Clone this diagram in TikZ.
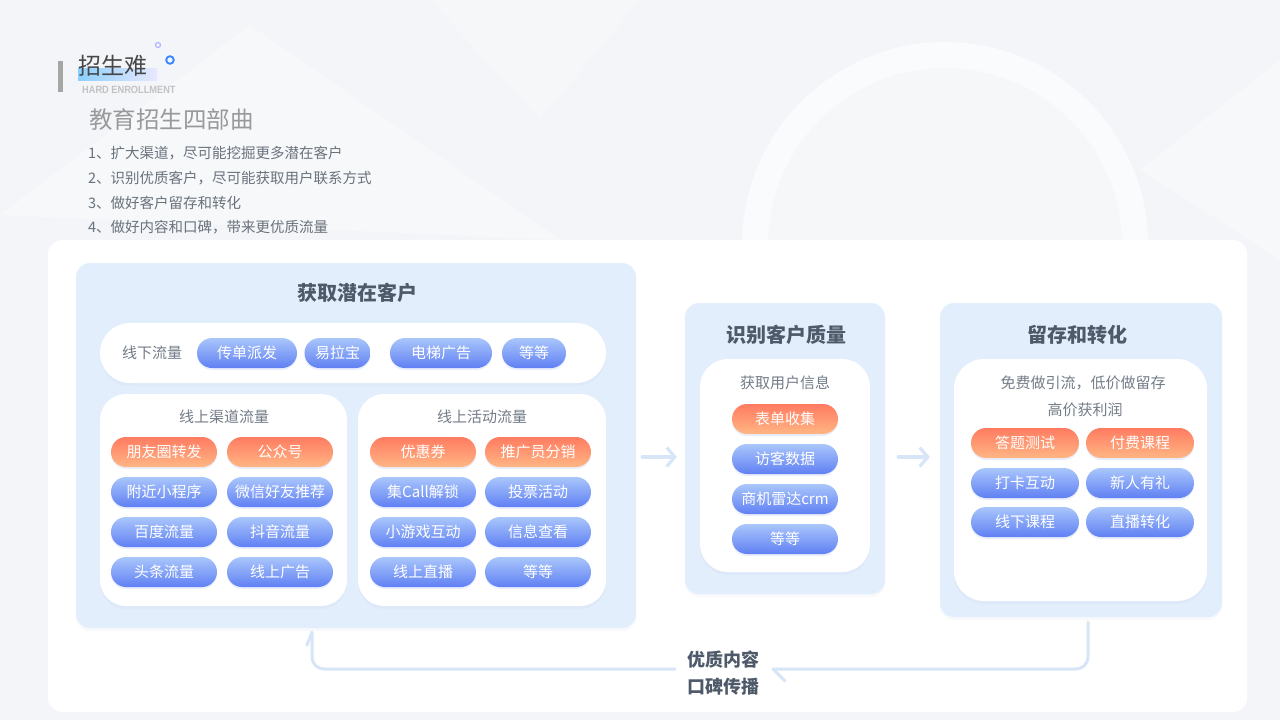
\documentclass[tikz,border=0pt]{standalone}
\usepackage{fontspec}
\setmainfont{Noto Sans CJK SC}
\newfontfamily\arialfont{Liberation Sans}
\usetikzlibrary{shadows,arrows.meta}
\definecolor{bgc}{HTML}{F3F5F8}
\definecolor{boxblue}{HTML}{E3EEFC}
\definecolor{titlec}{HTML}{4E5A69}
\definecolor{subc}{HTML}{737C87}
\definecolor{listc}{HTML}{6A727C}
\definecolor{pbtop}{HTML}{A9C6FB}
\definecolor{pbbot}{HTML}{6080F3}
\definecolor{potop}{HTML}{FF7B61}
\definecolor{pobot}{HTML}{FFB684}
\definecolor{arrowc}{HTML}{D6E5F7}
\definecolor{shadowc}{HTML}{B9CBE3}
\tikzset{
  fs/.style={font=\fontsize{#1}{17}\selectfont},
  bluebox/.style={fill=boxblue, rounded corners=14, inner sep=0,
    drop shadow={shadow xshift=0pt, shadow yshift=-3pt, opacity=0.10, fill=shadowc}},
  whitebox/.style={fill=white, rounded corners=#1, inner sep=0,
    drop shadow={shadow xshift=0pt, shadow yshift=-3pt, opacity=0.12, fill=shadowc}},
  pill/.style={rounded corners=15, minimum width=#1, minimum height=30, inner sep=0,
    text=white, font=\fontsize{15}{18}\selectfont,
    drop shadow={shadow xshift=0pt, shadow yshift=-2pt, opacity=0.12, fill=pbbot}},
  pb/.style={pill=#1, top color=pbtop, bottom color=pbbot},
  po/.style={pill=#1, top color=potop, bottom color=pobot},
  pb/.default=106, po/.default=106,
  boxtitle/.style={text=titlec, font=\fontsize{20}{24}\selectfont\bfseries},
  subtitle/.style={text=subc, font=\fontsize{15}{18}\selectfont},
  flow/.style={draw=arrowc, line width=3.2, -{Straight Barb[length=8pt,width=19pt]}, line cap=round},
  loopline/.style={draw=arrowc, line width=3, line cap=round, rounded corners=12}
}
\begin{document}
\begin{tikzpicture}[x=1pt,y=-1pt]
\useasboundingbox (0,0) rectangle (1280,720);
\fill[bgc] (0,0) rectangle (1280,720);
% faint decoration
\fill[white,opacity=0.3] (0,215) -- (250,25) -- (560,240) -- cycle;
\fill[white,opacity=0.3] (1140,170) -- (1280,60) -- (1280,260) -- cycle;
\fill[white,opacity=0.2] (430,0) -- (640,0) -- (540,120) -- cycle;
\draw[white,opacity=0.6,line width=26] (945,245) circle (190);
\fill[white,opacity=0.2] (945,245) circle (177);

% title area
\fill[gray!70] (58,61) rectangle (63,92);
\shade[left color=blue!40!cyan!55, right color=blue!10!white, opacity=0.8] (78,68) rectangle (157,80);
\node[anchor=west, inner sep=0, text=black!72, font=\fontsize{23}{26}\selectfont] (t1) at (78,66) {招生难};
\node[anchor=west, inner sep=0, text=black!24, font=\arialfont\fontsize{10.5}{12}\selectfont\bfseries] (t2) at (82,90) {\scalebox{0.88}[1]{HARD ENROLLMENT}};
\draw[blue!30, line width=1.2] (158,45) circle (2.5);
\draw[blue!60!cyan!80, line width=1.8] (170,60) circle (3.8);
\node[anchor=west, inner sep=0, text=black!40, font=\fontsize{23.5}{26}\selectfont] (t3) at (89,120) {教育招生四部曲};
\node[anchor=west, inner sep=0, text=listc, fs=14.5] (l1) at (88,153) {1、扩大渠道，尽可能挖掘更多潜在客户};
\node[anchor=west, inner sep=0, text=listc, fs=14.5] (l2) at (88,178) {2、识别优质客户，尽可能获取用户联系方式};
\node[anchor=west, inner sep=0, text=listc, fs=14.5] (l3) at (88,203) {3、做好客户留存和转化};
\node[anchor=west, inner sep=0, text=listc, fs=14.5] (l4) at (88,227) {4、做好内容和口碑，带来更优质流量};

% main panel
\fill[white, rounded corners=14] (48,240) rectangle (1247,712);

% left big box
\node[bluebox, minimum width=560, minimum height=365] (lbox) at (356,445.5) {};
\node[boxtitle] (lt) at (357,293) {获取潜在客户};
\node[whitebox=30, minimum width=506, minimum height=60] (off) at (353,353) {};
\node[subtitle] (offt) at (152,353) {线下流量};
\node[pb=100] (o1) at (247,353) {传单派发};
\node[pb=66]  (o2) at (337.5,353) {易拉宝};
\node[pb=102] (o3) at (441,353) {电梯广告};
\node[pb=64]  (o4) at (534,353) {等等};

\node[whitebox=26, minimum width=247, minimum height=212] (w1) at (223.5,500) {};
\node[subtitle] (w1t) at (224,417) {线上渠道流量};
\node[po] (a1) at (164,452) {朋友圈转发};
\node[po] (a2) at (280,452) {公众号};
\node[pb] (a3) at (164,492) {附近小程序};
\node[pb] (a4) at (280,492) {微信好友推荐};
\node[pb] (a5) at (164,532) {百度流量};
\node[pb] (a6) at (280,532) {抖音流量};
\node[pb] (a7) at (164,572) {头条流量};
\node[pb] (a8) at (280,572) {线上广告};

\node[whitebox=26, minimum width=248, minimum height=212] (w2) at (482,500) {};
\node[subtitle] (w2t) at (482,417) {线上活动流量};
\node[po] (b1) at (423,452) {优惠券};
\node[po] (b2) at (538,452) {推广员分销};
\node[pb] (b3) at (423,492) {集Call解锁};
\node[pb] (b4) at (538,492) {投票活动};
\node[pb] (b5) at (423,532) {小游戏互动};
\node[pb] (b6) at (538,532) {信息查看};
\node[pb] (b7) at (423,572) {线上直播};
\node[pb] (b8) at (538,572) {等等};

% middle box
\node[bluebox, minimum width=200, minimum height=291] (mbox) at (785,448.5) {};
\node[boxtitle] (mt) at (786,335) {识别客户质量};
\node[whitebox=28, minimum width=170, minimum height=213] (mw) at (785,465.5) {};
\node[subtitle] (mwt) at (785,383) {获取用户信息};
\node[po] (m1) at (785,419) {表单收集};
\node[pb] (m2) at (785,459) {访客数据};
\node[pb] (m3) at (785,499) {商机雷达crm};
\node[pb] (m4) at (785,539) {等等};

% right box
\node[bluebox, minimum width=282, minimum height=314] (rbox) at (1081,460) {};
\node[boxtitle] (rt) at (1077,335) {留存和转化};
\node[whitebox=30, minimum width=253, minimum height=242] (rw) at (1080.5,480) {};
\node[subtitle] (rwt1) at (1083,383) {免费做引流，低价做留存};
\node[subtitle] (rwt2) at (1085,410) {高价获利润};
\node[po=108] (r1) at (1025,443) {答题测试};
\node[po=108] (r2) at (1140,443) {付费课程};
\node[pb=108] (r3) at (1025,483) {打卡互动};
\node[pb=108] (r4) at (1140,483) {新人有礼};
\node[pb=108] (r5) at (1025,522) {线下课程};
\node[pb=108] (r6) at (1140,522) {直播转化};

% flow arrows
\draw[flow] ([xshift=6pt,yshift=-11.5pt]lbox.east) -- ([xshift=-8pt,yshift=-8.5pt]mbox.west);
\draw[flow] ([xshift=13pt,yshift=-8.5pt]mbox.east) -- ([xshift=-10pt,yshift=3pt]rbox.west);

% feedback loop
\node[text=titlec, font=\fontsize{18}{27}\selectfont\bfseries, align=center, inner sep=0] (loopt) at (723,673) {优质内容\\口碑传播};
\coordinate (lr) at (773,669);
\coordinate (ll) at (675,669);
\draw[loopline] ([xshift=7pt,yshift=-5pt]rbox.south) |- (lr);
\draw[loopline] (lr) -- ++(12,12);
\draw[loopline] (ll) -| ([xshift=-44pt,yshift=-4pt]lbox.south);
\draw[loopline] ([xshift=-44pt,yshift=-4pt]lbox.south) -- ++(-5,13);
\end{tikzpicture}
\end{document}
